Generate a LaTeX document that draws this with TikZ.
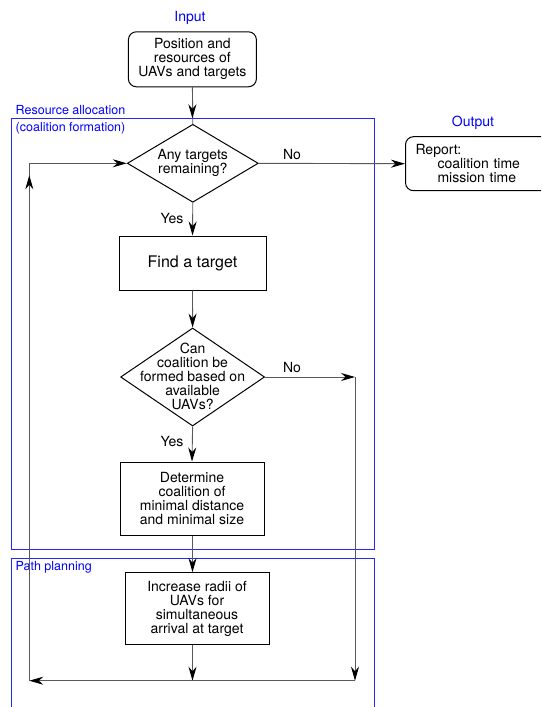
\documentclass[tikz,border=0pt]{standalone}
\usepackage{fontspec}
\setmainfont{TeX Gyre Heros}
\usetikzlibrary{shapes.geometric,arrows.meta}
\begin{document}
\begin{tikzpicture}[x=1pt,y=-1pt,
  txt/.style={font=\fontsize{14}{14}\selectfont, align=center, inner sep=0pt},
  box/.style={txt, draw=black, line width=1pt},
  rbox/.style={box, rounded corners=8pt},
  dia/.style={draw=black, diamond, line width=1pt, inner sep=0pt},
  conn/.style={draw=black!65, line width=0.9pt},
  arr/.style={conn, -{Stealth[length=14pt,width=8pt,inset=4.5pt,color=black]}},
  bluelbl/.style={font=\fontsize{12.5}{12.5}\selectfont, text=blue, inner sep=0pt, anchor=west},
  iolbl/.style={font=\fontsize{14}{14}\selectfont, text=blue, inner sep=0pt},
  region/.style={draw=blue!85!white, line width=1pt},
  ynlbl/.style={font=\fontsize{14}{14}\selectfont, inner sep=0pt}
]
\useasboundingbox (0,0) rectangle (541,707);
\clip (0,0) rectangle (541,707);

% regions
\draw[region] (11.4,118.3) rectangle (374,549);
\draw[region] (11.4,558.3) rectangle (374,730);
\node[bluelbl] (lra) at (15.5,110) {Resource allocation};
\node[bluelbl] (lcf) at (15.5,128.3) {(coalition formation)};
\node[bluelbl] (lpp) at (15.5,567.7) {Path planning};

% labels
\node[iolbl] (lin) at (190,18.3) {Input};
\node[iolbl] (lout) at (473,122.3) {Output};

% nodes
\node[rbox, minimum width=128pt, minimum height=55pt] (in) at (192.4,59.3)
  {Position and\\resources of\\UAVs and targets};
\node[dia, minimum width=131pt, minimum height=78pt] (d1) at (192.8,163.3) {};
\node[txt] (d1t) at (192.8,163.3) {Any targets\\remaining?};
\node[rbox, anchor=west, minimum height=54pt, text width=140pt, align=left,
      inner xsep=10pt] (out) at (405,163.7)
  {Report:\\\hspace*{22pt}coalition time\\\hspace*{22pt}mission time};
\node[box, font=\fontsize{16}{16}\selectfont, minimum width=147pt, minimum height=54pt] (find) at (192.5,263) {Find a target};
\node[dia, minimum width=144pt, minimum height=98pt] (d2) at (192.6,377) {};
\node[txt] (d2t) at (192.6,376) {Can\\coalition be\\formed based on\\available\\UAVs?};
\node[box, minimum width=144pt, minimum height=73pt] (det) at (192,498.5)
  {Determine\\coalition of\\minimal distance\\and minimal size};
\node[box, minimum width=144pt, minimum height=72.3pt] (inc) at (197,608.8)
  {Increase radii of\\UAVs for\\simultaneous\\arrival at target};

\coordinate (atop) at (192.4,118.3);
\coordinate (r1) at (355,377);
\coordinate (r2) at (355,680.7);
\coordinate (bm) at (192.5,680.7);
\coordinate (bl) at (29.3,680.7);
\coordinate (tl) at (29.3,163.3);

% connectors
\draw[conn] (in.south) -- (d1.north);
\draw[arr] (in.south) -- (atop);
\draw[arr] (d1.east) -- (out.west);
\node[ynlbl] (no1) at (292,154) {No};
\draw[arr] (d1.south) -- (find.north);
\node[ynlbl] (yes1) at (172,218.3) {Yes};
\draw[arr] (find.south) -- (d2.north);
\draw[arr] (d2.east) -- (r1);
\node[ynlbl] (no2) at (292,367.3) {No};
\draw[arr] (r1) -- (r2);
\draw[arr] (d2.south) -- (det.north);
\node[ynlbl] (yes2) at (172,441.7) {Yes};
\draw[arr] (det.south -| bm) -- (inc.north -| bm);
\draw[arr] (inc.south -| bm) -- (bm);
\draw[arr] (r2) -- (bl);
\draw[conn] (bl) -- (tl);
\draw[arr] (bl) -- ([yshift=-12pt]tl);
\draw[arr] (tl) -- (d1.west);
\end{tikzpicture}
\end{document}
